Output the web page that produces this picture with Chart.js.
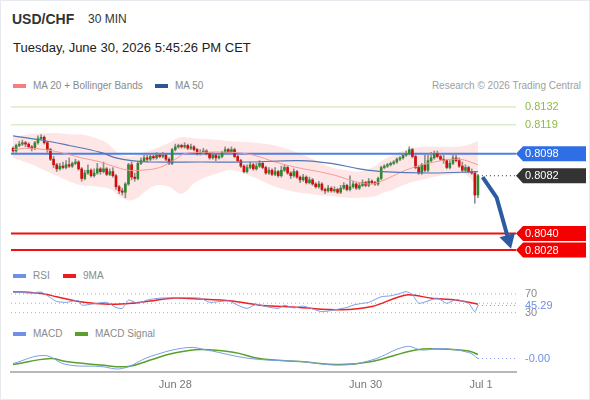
<!DOCTYPE html>
<html>
<head>
<meta charset="utf-8">
<script src="https://cdn.jsdelivr.net/npm/chart.js@4.4.1/dist/chart.umd.min.js"></script>
<style>
  body { margin: 0; background: #fff; font-family: "Liberation Sans", Arial, sans-serif; }
  .abs { position: absolute; white-space: nowrap; }
  #frame { position: absolute; left: 0; top: 0; width: 588px; height: 398px; border: 1px solid #e6eaee; }
  .sw { position: absolute; width: 13px; height: 4px; }
  .lg { font-size: 10px; line-height: 12px; color: #8a8a8a; }
  canvas { position: absolute; left: 0; }
</style>
</head>
<body>
<div id="frame"></div>
<div class="abs" style="left:12px;top:11px;font-size:14px;line-height:16px;font-weight:bold;color:#333">USD/CHF</div>
<div class="abs" style="left:88px;top:12px;font-size:12px;line-height:14px;color:#333">30 MIN</div>
<div class="abs" style="left:13px;top:40px;font-size:13px;line-height:15px;color:#222">Tuesday, June 30, 2026 5:45:26 PM CET</div>

<div class="sw" style="left:13px;top:84px;background:#f47f7f"></div>
<div class="abs lg" style="left:33px;top:80px">MA 20 + Bollinger Bands</div>
<div class="sw" style="left:155px;top:84px;background:#2f5597"></div>
<div class="abs lg" style="left:175px;top:80px">MA 50</div>
<div class="abs lg" style="right:9px;top:80px;color:#a0a0a0">Research © 2026 Trading Central</div>

<div class="sw" style="left:13px;top:274px;background:#6f8fe8"></div>
<div class="abs lg" style="left:33px;top:270px">RSI</div>
<div class="sw" style="left:63px;top:274px;background:#ee1c1c"></div>
<div class="abs lg" style="left:83px;top:270px">9MA</div>

<div class="sw" style="left:13px;top:332px;background:#6f8fe8"></div>
<div class="abs lg" style="left:33px;top:328px">MACD</div>
<div class="sw" style="left:75px;top:332px;background:#5aa02c"></div>
<div class="abs lg" style="left:95px;top:328px">MACD Signal</div>

<canvas id="cPrice" width="590" height="170" style="top:95px"></canvas>
<canvas id="cRsi" width="590" height="35" style="top:285px"></canvas>
<canvas id="cMacd" width="590" height="60" style="top:340px"></canvas>

<script>
// candles, 30 min
const opens = [
0.8102,0.8100,0.8104,0.8105,0.8106,0.8105,0.8103,0.8102,0.8106,0.8109,
0.8110,0.8106,0.8101,0.8094,0.8090,0.8087,0.8089,0.8088,0.8090,0.8089,
0.8091,0.8092,0.8087,0.8080,0.8084,0.8086,0.8082,0.8084,0.8087,0.8085,
0.8087,0.8083,0.8085,0.8082,0.8074,0.8071,0.8070,0.8076,0.8090,0.8081,
0.8080,0.8091,0.8093,0.8095,0.8094,0.8096,0.8095,0.8097,0.8096,0.8097,
0.8094,0.8091,0.8101,0.8103,0.8104,0.8103,0.8104,0.8102,0.8103,0.8101,
0.8098,0.8099,0.8100,0.8098,0.8095,0.8097,0.8095,0.8096,0.8099,0.8101,
0.8099,0.8101,0.8096,0.8093,0.8089,0.8085,0.8088,0.8090,0.8087,0.8089,
0.8091,0.8088,0.8084,0.8086,0.8083,0.8085,0.8082,0.8086,0.8088,0.8084,
0.8082,0.8085,0.8081,0.8079,0.8081,0.8077,0.8079,0.8076,0.8074,0.8076,
0.8072,0.8071,0.8073,0.8071,0.8072,0.8070,0.8073,0.8075,0.8072,0.8074,
0.8076,0.8073,0.8075,0.8077,0.8075,0.8078,0.8077,0.8076,0.8080,0.8088,
0.8089,0.8090,0.8091,0.8092,0.8094,0.8095,0.8097,0.8098,0.8101,0.8096,
0.8088,0.8084,0.8090,0.8086,0.8093,0.8095,0.8098,0.8096,0.8094,0.8093,
0.8088,0.8091,0.8095,0.8093,0.8089,0.8086,0.8088,0.8085,0.8084,0.8068];
const closes = [
0.8100,0.8104,0.8105,0.8106,0.8105,0.8103,0.8102,0.8106,0.8109,0.8110,
0.8106,0.8101,0.8094,0.8090,0.8087,0.8089,0.8088,0.8090,0.8089,0.8091,
0.8092,0.8087,0.8080,0.8084,0.8086,0.8082,0.8084,0.8087,0.8085,0.8087,
0.8083,0.8085,0.8082,0.8074,0.8071,0.8070,0.8076,0.8090,0.8081,0.8080,
0.8091,0.8093,0.8095,0.8094,0.8096,0.8095,0.8097,0.8096,0.8097,0.8094,
0.8091,0.8101,0.8103,0.8104,0.8103,0.8104,0.8102,0.8103,0.8101,0.8098,
0.8099,0.8100,0.8098,0.8095,0.8097,0.8095,0.8096,0.8099,0.8101,0.8099,
0.8101,0.8096,0.8093,0.8089,0.8085,0.8088,0.8090,0.8087,0.8089,0.8091,
0.8088,0.8084,0.8086,0.8083,0.8085,0.8082,0.8086,0.8088,0.8084,0.8082,
0.8085,0.8081,0.8079,0.8081,0.8077,0.8079,0.8076,0.8074,0.8076,0.8072,
0.8071,0.8073,0.8071,0.8072,0.8070,0.8073,0.8075,0.8072,0.8074,0.8076,
0.8073,0.8075,0.8077,0.8075,0.8078,0.8077,0.8076,0.8080,0.8088,0.8089,
0.8090,0.8091,0.8092,0.8094,0.8095,0.8097,0.8098,0.8101,0.8096,0.8088,
0.8084,0.8090,0.8086,0.8093,0.8095,0.8098,0.8096,0.8094,0.8093,0.8088,
0.8091,0.8095,0.8093,0.8089,0.8086,0.8088,0.8085,0.8084,0.8068,0.8082];
const highs = [
0.8103,0.8105,0.8107,0.8108,0.8107,0.8106,0.8104,0.8107,0.8111,0.8112,
0.8111,0.8107,0.8102,0.8096,0.8091,0.8091,0.8092,0.8093,0.8095,0.8092,
0.8094,0.8093,0.8088,0.8086,0.8090,0.8087,0.8087,0.8091,0.8088,0.8092,
0.8088,0.8087,0.8088,0.8083,0.8075,0.8073,0.8077,0.8091,0.8092,0.8084,
0.8092,0.8095,0.8097,0.8097,0.8098,0.8097,0.8099,0.8098,0.8099,0.8098,
0.8095,0.8102,0.8105,0.8105,0.8105,0.8106,0.8105,0.8105,0.8104,0.8102,
0.8101,0.8102,0.8101,0.8099,0.8099,0.8098,0.8098,0.8100,0.8103,0.8102,
0.8103,0.8102,0.8097,0.8094,0.8090,0.8090,0.8092,0.8091,0.8091,0.8093,
0.8092,0.8089,0.8088,0.8087,0.8088,0.8086,0.8089,0.8090,0.8089,0.8085,
0.8087,0.8086,0.8082,0.8083,0.8082,0.8081,0.8080,0.8077,0.8078,0.8077,
0.8073,0.8075,0.8074,0.8074,0.8073,0.8075,0.8077,0.8076,0.8082,0.8078,
0.8077,0.8077,0.8079,0.8078,0.8080,0.8079,0.8078,0.8081,0.8089,0.8090,
0.8091,0.8092,0.8093,0.8095,0.8096,0.8098,0.8100,0.8103,0.8102,0.8097,
0.8089,0.8091,0.8097,0.8098,0.8099,0.8100,0.8100,0.8098,0.8097,0.8094,
0.8093,0.8098,0.8097,0.8095,0.8092,0.8090,0.8089,0.8087,0.8085,0.8083];
const lows = [
0.8099,0.8099,0.8103,0.8104,0.8103,0.8102,0.8100,0.8101,0.8105,0.8108,
0.8105,0.8099,0.8093,0.8088,0.8085,0.8086,0.8087,0.8087,0.8088,0.8088,
0.8090,0.8086,0.8078,0.8079,0.8083,0.8081,0.8081,0.8083,0.8083,0.8084,
0.8082,0.8082,0.8081,0.8072,0.8069,0.8068,0.8066,0.8075,0.8079,0.8078,
0.8079,0.8090,0.8092,0.8092,0.8093,0.8094,0.8094,0.8095,0.8095,0.8093,
0.8090,0.8090,0.8100,0.8102,0.8102,0.8102,0.8101,0.8101,0.8100,0.8097,
0.8097,0.8098,0.8097,0.8094,0.8094,0.8093,0.8094,0.8095,0.8098,0.8098,
0.8098,0.8095,0.8092,0.8088,0.8084,0.8084,0.8087,0.8086,0.8086,0.8088,
0.8087,0.8083,0.8083,0.8082,0.8082,0.8081,0.8081,0.8085,0.8083,0.8080,
0.8081,0.8080,0.8077,0.8078,0.8076,0.8076,0.8075,0.8073,0.8073,0.8071,
0.8069,0.8070,0.8070,0.8070,0.8069,0.8069,0.8072,0.8071,0.8071,0.8073,
0.8072,0.8072,0.8074,0.8074,0.8074,0.8076,0.8075,0.8075,0.8079,0.8087,
0.8088,0.8089,0.8090,0.8091,0.8093,0.8094,0.8096,0.8097,0.8095,0.8087,
0.8083,0.8083,0.8085,0.8085,0.8092,0.8094,0.8095,0.8093,0.8091,0.8087,
0.8087,0.8090,0.8092,0.8088,0.8085,0.8085,0.8084,0.8083,0.8062,0.8066];

// moving averages, Bollinger bands (candle index -> price)
const ma20Idx = [0,5,10,15,22,28,32,37,41,47,52,55,60,70,77,84,91,102,111,115,118,127,135,143,149];
const ma20 = [0.8101,0.8102,0.8101,0.8099,0.8095,0.8092,0.8089,0.8086,0.8086,0.8088,0.8094,0.8098,0.8099,
              0.8099,0.8097,0.8092,0.8088,0.8083,0.8077,0.8076,0.8078,0.8087,0.8092,0.8094,0.8090];
const ma50Idx = [0,9,18,28,33,38,44,60,76,92,102,111,118,134,149];
const ma50 = [0.8111,0.8108,0.8104,0.8099,0.8095,0.8093,0.8092,0.8092,0.8092,0.8093,0.8091,0.8087,0.8085,0.8084,0.8085];
const bbIdx = [0,5,10,14,19,22,27,30,32,34,37,40,42,46,50,54,59,66,70,77,84,91,98,102,107,111,116,119,122,126,131,137,142,145,149];
const bbUpper = [0.8110,0.8112,0.8113,0.8113,0.8112,0.8112,0.8109,0.8106,0.8102,0.8098,0.8096,0.8097,0.8099,0.8102,0.8106,0.8110,0.8109,0.8108,
                 0.8107,0.8106,0.8104,0.8099,0.8092,0.8088,0.8086,0.8085,0.8089,0.8094,0.8097,0.8101,0.8103,0.8103,0.8103,0.8104,0.8107];
const bbLower = [0.8095,0.8091,0.8086,0.8082,0.8077,0.8075,0.8074,0.8073,0.8071,0.8067,0.8064,0.8066,0.8070,0.8075,0.8074,0.8069,0.8078,0.8084,
                 0.8086,0.8081,0.8074,0.8070,0.8068,0.8067,0.8066,0.8066,0.8067,0.8070,0.8072,0.8076,0.8079,0.8082,0.8083,0.8083,0.8073];

// key levels
const levels = [0.8132, 0.8119, 0.8098, 0.8040, 0.8028];
const levelKinds = ['res', 'res', 'pivot', 'sup', 'sup'];
const lastPrice = 0.8082;

// projected path (candle index, price)
const arrowX = [150.5, 155, 159.6];
const arrowY = [0.8081, 0.8066, 0.8029];

// RSI + 9MA
const rsiIdx = [0,6,9,12,14,17,21,22,25,30,33,35,37,40,43,47,54,60,63,69,72,75,78,81,85,87,90,93,99,103,107,109,112,114,
                118,121,124,126,128,130,133,136,139,142,146,148,149];
const rsi = [74,72,74,62,54,52,56,46,48,52,41,39,57,50,57,61,62,61,52,55,46,39,48,43,39,46,40,44,32,36,41,46,50,52,
             64,66,71,75,69,50,55,61,50,58,50,32,45.29];
const rsiMaIdx = [0,9,14,22,31,38,44,51,60,70,79,87,92,105,115,126,134,142,149];
const rsiMa = [75,71,64,53,48,50,55,61,59,55,46,43,41,36,43,68,61,57,48];
const rsiBands = [70, 50, 30];

// MACD
const macdIdx = [0,10,17,28,35,44,56,62,76,92,105,115,126,131,137,146,149];
const macd = [-0.00011,0.00005,-0.00013,-0.00017,-0.00021,0.00003,0.00021,0.00016,-0.00001,-0.00007,-0.00014,-0.00004,
              0.00023,0.00016,0.00019,0.00011,-0.00001];
const signalIdx = [0,12,17,28,37,44,51,60,71,79,92,105,115,129,137,146,149];
const signal = [-0.00013,-0.00001,-0.00007,-0.00014,-0.00017,-0.00004,0.00009,0.00017,0.00011,-0.00001,-0.00007,-0.00013,
                -0.00007,0.00016,0.00018,0.00014,0.00007];

// x axis
const dateIdx = [52, 113, 150];
const dateLabels = ['Jun 28', 'Jun 30', 'Jul 1'];

const X_MIN = -0.65, X_MAX = 161.2;
const FONT = '"Liberation Sans", Arial, sans-serif';
const last = closes.length - 1;

function pts(xs, ys) { return xs.map((x, k) => ({ x: x, y: ys[k] })); }
function hline(v, x0) { return [{ x: x0 === undefined ? X_MIN : x0, y: v }, { x: X_MAX, y: v }]; }

function tag(ctx, x, y, bg, fg, text) {
    ctx.save();
    if (bg) {
        ctx.fillStyle = bg;
        ctx.beginPath();
        ctx.moveTo(x, y);
        ctx.lineTo(x + 7, y - 7.5);
        ctx.lineTo(x + 70, y - 7.5);
        ctx.lineTo(x + 70, y + 7.5);
        ctx.lineTo(x + 7, y + 7.5);
        ctx.closePath();
        ctx.fill();
    }
    ctx.fillStyle = fg;
    ctx.font = '11px ' + FONT;
    ctx.textBaseline = 'middle';
    ctx.fillText(text, x + 9, y + 0.5);
    ctx.restore();
}

const baseOpts = (yMin, yMax) => ({
    responsive: false,
    animation: false,
    events: [],
    layout: { padding: { left: 11, right: 74, top: 0, bottom: 0 } },
    plugins: { legend: { display: false }, tooltip: { enabled: false } },
    scales: {
        x: { type: 'linear', min: X_MIN, max: X_MAX, offset: false, display: false },
        y: { type: 'linear', min: yMin, max: yMax, display: false, beginAtZero: false }
    }
});

// ---------- price panel ----------
const levelStyle = {
    res: { color: '#cde2ad', width: 1, bg: null, fg: '#8dbb3f' },
    pivot: { color: '#4d80e4', width: 2, bg: '#2f6fe6', fg: '#fff' },
    sup: { color: '#f01010', width: 2, bg: '#f40000', fg: '#fff' }
};

const priceDatasets = [
    { type: 'line', data: pts(bbIdx, bbUpper), borderWidth: 0, pointRadius: 0, fill: false, tension: 0.4, order: 20 },
    { type: 'line', data: pts(bbIdx, bbLower), borderWidth: 0, pointRadius: 0, fill: '-1',
      backgroundColor: 'rgba(255,195,195,0.42)', tension: 0.4, order: 19 }
];
levels.forEach((v, k) => {
    const s = levelStyle[levelKinds[k]];
    priceDatasets.push({ type: 'line', data: hline(v), borderColor: s.color, borderWidth: s.width,
        pointRadius: 0, fill: false, order: 15 });
});
priceDatasets.push({ type: 'line', data: hline(lastPrice, last), borderColor: '#333', borderWidth: 1,
    borderDash: [1, 3], pointRadius: 0, fill: false, order: 15 });
priceDatasets.push({ type: 'bar', data: lows.map((l, i) => ({ x: i, y: [l, highs[i]] })),
    backgroundColor: '#8e8e8e', barThickness: 1, grouped: false, order: 6 });
priceDatasets.push({ type: 'bar', data: opens.map((o, i) => ({ x: i, y: [o, closes[i]] })),
    backgroundColor: opens.map((o, i) => closes[i] >= o ? '#2f8a2f' : '#d40c0c'),
    barThickness: 2, minBarLength: 1, grouped: false, order: 5 });
priceDatasets.push({ type: 'line', data: pts(ma20Idx, ma20), borderColor: '#f59a9a', borderWidth: 1,
    pointRadius: 0, tension: 0.4, fill: false, order: 2 });
priceDatasets.push({ type: 'line', data: pts(ma50Idx, ma50), borderColor: '#5676b4', borderWidth: 1.2,
    pointRadius: 0, tension: 0.4, fill: false, order: 1 });

const priceDecor = {
    id: 'priceDecor',
    afterDraw(chart) {
        const ctx = chart.ctx, xs = chart.scales.x, ys = chart.scales.y;
        const right = chart.chartArea.right;
        // arrow
        const px = arrowX.map(v => xs.getPixelForValue(v));
        const py = arrowY.map(v => ys.getPixelForValue(v));
        const n = px.length - 1;
        const ang = Math.atan2(py[n] - py[n - 1], px[n] - px[n - 1]);
        ctx.save();
        ctx.strokeStyle = '#2c5ba3';
        ctx.fillStyle = '#2c5ba3';
        ctx.lineWidth = 4;
        ctx.lineJoin = 'round';
        ctx.beginPath();
        ctx.moveTo(px[0], py[0]);
        for (let k = 1; k < n; k++) ctx.lineTo(px[k], py[k]);
        ctx.lineTo(px[n] - Math.cos(ang) * 9, py[n] - Math.sin(ang) * 9);
        ctx.stroke();
        ctx.beginPath();
        ctx.moveTo(px[n], py[n]);
        ctx.lineTo(px[n] - Math.cos(ang) * 14 + Math.sin(ang) * 8, py[n] - Math.sin(ang) * 14 - Math.cos(ang) * 8);
        ctx.lineTo(px[n] - Math.cos(ang) * 14 - Math.sin(ang) * 8, py[n] - Math.sin(ang) * 14 + Math.cos(ang) * 8);
        ctx.closePath();
        ctx.fill();
        ctx.restore();
        // tags
        levels.forEach((v, k) => {
            const s = levelStyle[levelKinds[k]];
            tag(ctx, right, ys.getPixelForValue(v), s.bg, s.fg, v.toFixed(4));
        });
        tag(ctx, right, ys.getPixelForValue(lastPrice), '#333333', '#fff', lastPrice.toFixed(4));
    }
};

new Chart(document.getElementById('cPrice'), {
    type: 'bar',
    data: { datasets: priceDatasets },
    options: baseOpts(0.80171, 0.81407),
    plugins: [priceDecor]
});

// ---------- RSI panel ----------
const rsiDatasets = rsiBands.map(v => ({ type: 'line', data: hline(v), borderColor: '#b0b0b0', borderWidth: 1,
    borderDash: [1, 3], pointRadius: 0, fill: false, order: 10 }));
rsiDatasets.push({ type: 'line', data: hline(rsi[rsi.length - 1], rsiIdx[rsiIdx.length - 1]), borderColor: '#7d9ce8',
    borderWidth: 1, borderDash: [1, 3], pointRadius: 0, fill: false, order: 9 });
rsiDatasets.push({ type: 'line', data: pts(rsiMaIdx, rsiMa), borderColor: '#ee2020', borderWidth: 1.5,
    pointRadius: 0, tension: 0.3, fill: false, order: 2 });
rsiDatasets.push({ type: 'line', data: pts(rsiIdx, rsi), borderColor: '#7d9ce8', borderWidth: 1,
    pointRadius: 0, tension: 0.2, fill: false, order: 1 });

new Chart(document.getElementById('cRsi'), {
    type: 'line',
    data: { datasets: rsiDatasets },
    options: baseOpts(14.2, 89.2),
    plugins: [{
        id: 'rsiTags',
        afterDraw(chart) {
            const ys = chart.scales.y, r = chart.chartArea.right;
            tag(chart.ctx, r, ys.getPixelForValue(rsiBands[0]), null, '#8a8a8a', String(rsiBands[0]));
            tag(chart.ctx, r, ys.getPixelForValue(rsiBands[2]), null, '#8a8a8a', String(rsiBands[2]));
            const v = rsi[rsi.length - 1];
            tag(chart.ctx, r, ys.getPixelForValue(v), null, '#6f8fe8', v.toFixed(2));
        }
    }]
});

// ---------- MACD panel ----------
const macdOpts = baseOpts(-0.00028, 0.00036);
macdOpts.scales.x = {
    type: 'linear', min: X_MIN, max: X_MAX, offset: false, display: true,
    grid: { display: false, drawTicks: false },
    border: { display: true, color: '#b8b8b8', width: 2 },
    afterBuildTicks: axis => { axis.ticks = dateIdx.map(v => ({ value: v })); },
    afterFit: axis => { axis.height = 28; },
    ticks: {
        autoSkip: false, maxRotation: 0, padding: 6, color: '#777',
        font: { size: 11, family: FONT },
        callback: v => dateLabels[dateIdx.indexOf(v)]
    }
};

new Chart(document.getElementById('cMacd'), {
    type: 'line',
    data: {
        datasets: [
            { data: hline(macd[macd.length - 1], macdIdx[macdIdx.length - 1]), borderColor: '#7d9ce8', borderWidth: 1,
              borderDash: [1, 3], pointRadius: 0, fill: false, order: 9 },
            { data: pts(signalIdx, signal), borderColor: '#5aa02c', borderWidth: 1.5, pointRadius: 0,
              tension: 0.4, fill: false, order: 2 },
            { data: pts(macdIdx, macd), borderColor: '#7d9ce8', borderWidth: 1, pointRadius: 0,
              tension: 0.4, fill: false, order: 1 }
        ]
    },
    options: macdOpts,
    plugins: [{
        id: 'macdTag',
        afterDraw(chart) {
            const v = macd[macd.length - 1];
            tag(chart.ctx, chart.chartArea.right, chart.scales.y.getPixelForValue(v), null, '#6f8fe8', v.toFixed(2));
        }
    }]
});
</script>
</body>
</html>
